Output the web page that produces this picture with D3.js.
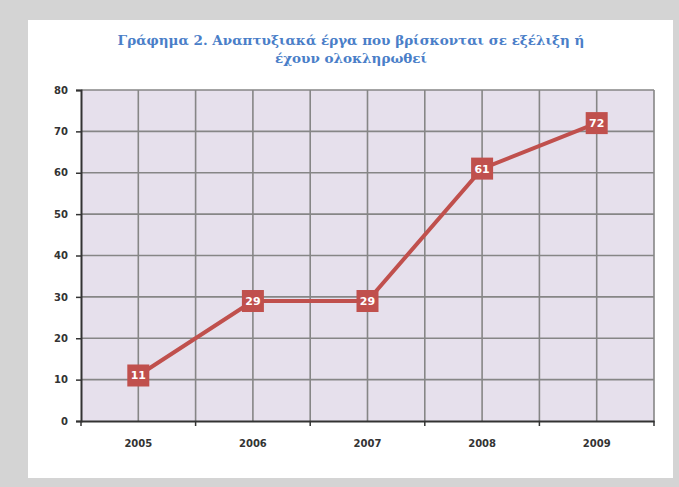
<!DOCTYPE html>
<html lang="el">
<head>
<meta charset="UTF-8">
<title>Γράφημα 2</title>
<script src="https://d3js.org/d3.v7.min.js"></script>
<style>
    body { margin: 0; background: #d4d4d4; }
    svg { display: block; }
    .tick text { font-family: "DejaVu Sans", sans-serif; font-size: 10px; font-weight: bold; fill: #333; }
</style>
</head>
<body>
<svg width="679" height="487"></svg>
<script>
    const years = ["2005", "2006", "2007", "2008", "2009"];
    const values = [11, 29, 29, 61, 72];
    const yTicks = [0, 10, 20, 30, 40, 50, 60, 70, 80];
    const titleLines = ["Γράφημα 2. Αναπτυξιακά έργα που βρίσκονται σε εξέλιξη ή", "έχουν ολοκληρωθεί"];

    const svg = d3.select("svg");

    // white panel
    svg.append("rect")
        .attr("x", 28).attr("y", 20)
        .attr("width", 645).attr("height", 458)
        .attr("fill", "white");

    const margin = { left: 81, right: 654, top: 90, bottom: 421 };

    const x = d3.scaleBand().domain(years).range([margin.left, margin.right]);
    const y = d3.scaleLinear().domain([0, 80]).range([margin.bottom, margin.top]);

    // plot area
    svg.append("rect")
        .attr("x", margin.left).attr("y", margin.top)
        .attr("width", margin.right - margin.left).attr("height", margin.bottom - margin.top)
        .attr("fill", "#e6e0ec");

    // horizontal grid
    svg.append("g").selectAll("line")
        .data(yTicks.slice(1))
        .join("line")
        .attr("x1", margin.left).attr("x2", margin.right)
        .attr("y1", d => y(d)).attr("y2", d => y(d))
        .attr("stroke", "#868686").attr("stroke-width", 1.6);

    // vertical grid: category centres and boundaries
    const vLines = [];
    years.forEach(yr => {
        vLines.push(x(yr) + x.bandwidth() / 2);
        vLines.push(x(yr) + x.bandwidth());
    });
    svg.append("g").selectAll("line")
        .data(vLines)
        .join("line")
        .attr("x1", d => d).attr("x2", d => d)
        .attr("y1", margin.top).attr("y2", margin.bottom)
        .attr("stroke", "#868686").attr("stroke-width", 1.6);

    // y axis
    const yAxis = svg.append("g")
        .attr("transform", `translate(${margin.left},0)`)
        .call(d3.axisLeft(y).tickValues(yTicks).tickSize(5).tickPadding(8));
    yAxis.select(".domain").attr("stroke", "#333").attr("stroke-width", 2);
    yAxis.selectAll(".tick line").attr("stroke", "#333").attr("stroke-width", 1.5);

    // x axis
    const xAxis = svg.append("g")
        .attr("transform", `translate(0,${margin.bottom})`)
        .call(d3.axisBottom(x).tickSize(0).tickPadding(19));
    xAxis.select(".domain").attr("stroke", "#333").attr("stroke-width", 2);
    xAxis.append("g").selectAll("line")
        .data([margin.left, ...years.map(yr => x(yr) + x.bandwidth())])
        .join("line")
        .attr("x1", d => d).attr("x2", d => d)
        .attr("y1", 0).attr("y2", 5)
        .attr("stroke", "#333").attr("stroke-width", 1.5);

    // line
    const line = d3.line()
        .x((d, i) => x(years[i]) + x.bandwidth() / 2)
        .y(d => y(d));
    svg.append("path")
        .datum(values)
        .attr("d", line)
        .attr("fill", "none")
        .attr("stroke", "#c0504d")
        .attr("stroke-width", 4);

    // markers with labels
    const pts = svg.append("g").selectAll("g")
        .data(values)
        .join("g")
        .attr("transform", (d, i) => `translate(${x(years[i]) + x.bandwidth() / 2},${y(d)})`);
    pts.append("rect")
        .attr("x", -11).attr("y", -11)
        .attr("width", 22).attr("height", 22)
        .attr("fill", "#c0504d");
    pts.append("text")
        .attr("text-anchor", "middle")
        .attr("dy", "0.36em")
        .attr("font-family", "DejaVu Sans, sans-serif")
        .attr("font-size", 11)
        .attr("font-weight", "bold")
        .attr("fill", "white")
        .text(d => d);

    // title
    svg.append("text")
        .attr("text-anchor", "middle")
        .attr("font-family", "DejaVu Serif, serif")
        .attr("font-size", 13.5)
        .attr("font-weight", "bold")
        .attr("fill", "#4a7ec8")
        .selectAll("tspan")
        .data(titleLines)
        .join("tspan")
        .attr("x", 351)
        .attr("y", (d, i) => 45 + i * 18)
        .text(d => d);
</script>
</body>
</html>
